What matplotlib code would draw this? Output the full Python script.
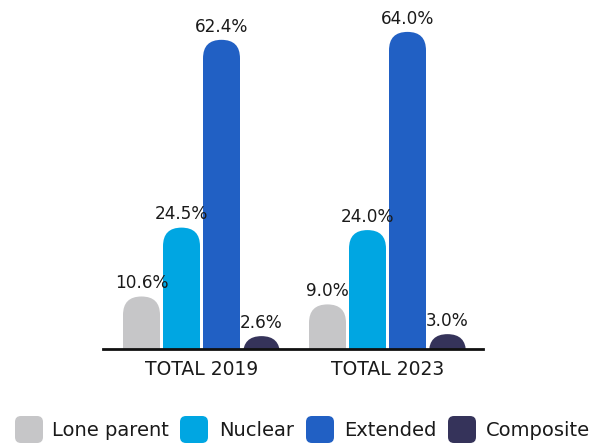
import matplotlib.pyplot as plt
from matplotlib.patches import FancyBboxPatch

# 1. Input
groups = ["TOTAL 2019", "TOTAL 2023"]
categories = ["Lone parent", "Nuclear", "Extended", "Composite"]
values_2019 = [10.6, 24.5, 62.4, 2.6]
values_2023 = [9.0, 24.0, 64.0, 3.0]
colors = ["#c6c6c8", "#00a6e2", "#2160c4", "#35335a"]

# 2. Process
W, H = 607, 443
fig = plt.figure(figsize=(W / 100, H / 100), dpi=100)
ax = fig.add_axes([103 / W, 94 / H, 380 / W, 329 / H])

ymax = 66.4
ax.set_xlim(0, 380)
ax.set_ylim(0, ymax)
y_per_px = ymax / 329

group_x = [98.5, 284.5]
offsets = [-60, -20, 20, 60]
bar_w = 37
r = bar_w / 2

for gx, vals in zip(group_x, [values_2019, values_2023]):
    for off, v, c in zip(offsets, vals, colors):
        x0 = gx + off - bar_w / 2
        bottom = -20
        p = FancyBboxPatch((x0, bottom), bar_w, v - bottom,
                           boxstyle="round,pad=0,rounding_size=%f" % r,
                           mutation_aspect=y_per_px, fc=c, ec="none")
        ax.add_patch(p)
        ax.annotate("%.1f%%" % v, (gx + off, v), xytext=(0, 3),
                    textcoords="offset points", ha="center", va="bottom",
                    fontsize=12.2, color="#1a1a1a")

for s in ["top", "right", "left"]:
    ax.spines[s].set_visible(False)
ax.spines["bottom"].set_linewidth(2)
ax.spines["bottom"].set_color("#111111")
ax.set_yticks([])
ax.set_xticks(group_x)
ax.set_xticklabels(groups, fontsize=13.5, color="#1a1a1a")
ax.tick_params(axis="x", length=0, pad=8)

# legend drawn in pixel coords
lax = fig.add_axes([0, 0, 1, 1])
lax.set_xlim(0, W)
lax.set_ylim(H, 0)
lax.axis("off")
box_x = [15, 180, 306, 448]
text_x = [52, 219, 344, 486]
for bx, tx, lab, c in zip(box_x, text_x, categories, colors):
    lax.add_patch(FancyBboxPatch((bx, 416), 28, 27,
                                 boxstyle="round,pad=0,rounding_size=6",
                                 fc=c, ec="none"))
    lax.text(tx, 431, lab, ha="left", va="center", fontsize=14,
             color="#1a1a1a")

# 3. Output
fig.savefig("out.png", dpi=100)
